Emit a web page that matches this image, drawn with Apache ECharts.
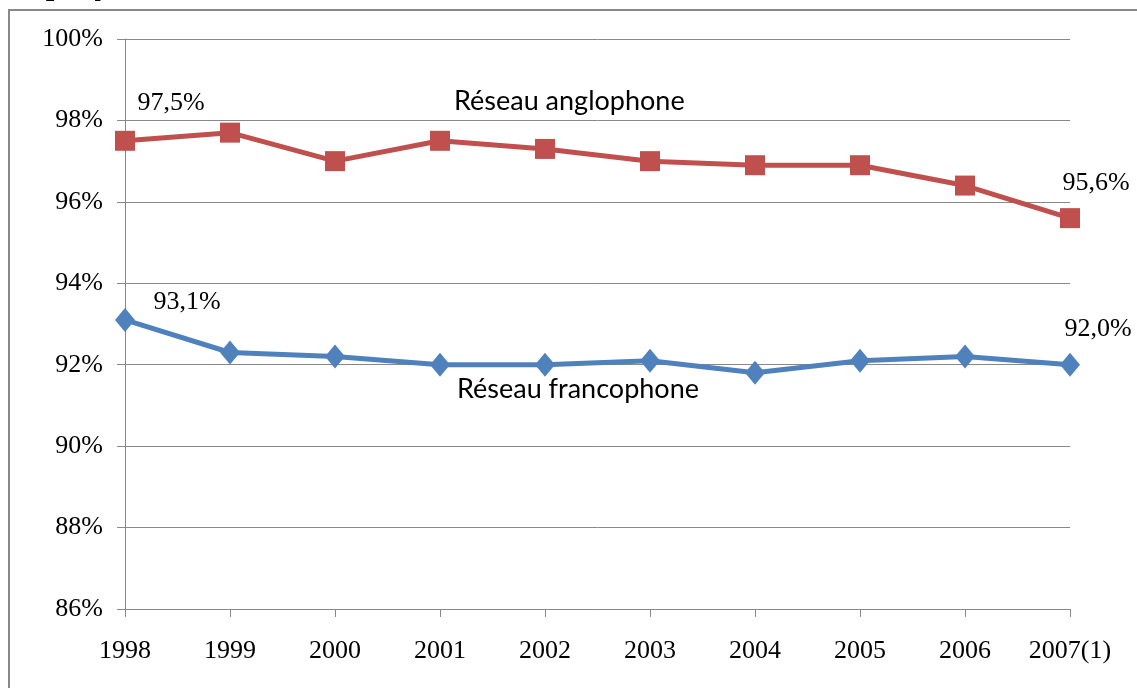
<!DOCTYPE html>
<html>
<head>
<meta charset="utf-8">
<script src="https://cdn.jsdelivr.net/npm/echarts@6/dist/echarts.min.js"></script>
<style>
  html, body { margin: 0; padding: 0; background: #fff; }
  #chart { width: 1137px; height: 688px; }
</style>
</head>
<body>
<div id="chart"></div>
<script>
const YEARS = ["1998", "1999", "2000", "2001", "2002", "2003", "2004", "2005", "2006", "2007(1)"];
const ANGLO = [97.5, 97.7, 97.0, 97.5, 97.3, 97.0, 96.9, 96.9, 96.4, 95.6];
const FRANCO = [93.1, 92.3, 92.2, 92.0, 92.0, 92.1, 91.8, 92.1, 92.2, 92.0];
// points that carry a value label in the original
const LABELLED = [0, 9];

var myChart = echarts.init(document.getElementById("chart"));
const serif = "'Liberation Serif', 'DejaVu Serif', serif";
const sans = "Lato, 'Open Sans', sans-serif";

function withLabels(values, offsets) {
  return values.map(function (v, i) {
    const k = LABELLED.indexOf(i);
    if (k < 0) return v;
    return {
      value: v,
      label: {
        show: true,
        position: "top",
        offset: offsets[k],
        formatter: function (p) {
          return p.value.toFixed(1).replace(".", ",") + "%";
        },
        fontFamily: serif,
        fontSize: 26,
        color: "#000",
      },
    };
  });
}

var option = {
  backgroundColor: "#fff",
  animation: false,
  grid: {
    left: 125,
    right: 67,
    top: 39,
    bottom: 79,
  },
  xAxis: {
    type: "category",
    data: YEARS,
    boundaryGap: false,
    axisLine: { lineStyle: { color: "#888", width: 1 } },
    axisTick: { show: true, length: 8, alignWithLabel: true, interval: 0, lineStyle: { color: "#888" } },
    axisLabel: { interval: 0, fontFamily: serif, fontSize: 26, color: "#000", margin: 29 },
  },
  yAxis: {
    type: "value",
    min: 86,
    max: 100,
    interval: 2,
    axisLine: { show: true, lineStyle: { color: "#888", width: 1 } },
    axisTick: { show: true, length: 8, lineStyle: { color: "#888" } },
    splitLine: { lineStyle: { color: "#888", width: 1 } },
    axisLabel: {
      formatter: "{value}%",
      fontFamily: serif,
      fontSize: 26,
      color: "#000",
      margin: 22,
    },
  },
  series: [
    {
      name: "Réseau anglophone",
      type: "line",
      data: withLabels(ANGLO, [[46, -10], [26, -7]]),
      symbol: "rect",
      symbolSize: 20,
      lineStyle: { color: "#C0504D", width: 5 },
      itemStyle: { color: "#C0504D" },
    },
    {
      name: "Réseau francophone",
      type: "line",
      data: withLabels(FRANCO, [[62, 12], [28, -6]]),
      symbol: "diamond",
      symbolSize: [20, 24],
      lineStyle: { color: "#4F81BD", width: 5 },
      itemStyle: { color: "#4F81BD" },
    },
  ],
  graphic: [
    {
      type: "rect",
      shape: { x: 9, y: 10, width: 1140, height: 700 },
      style: { fill: "none", stroke: "#888", lineWidth: 2 },
      silent: true,
    },
    {
      type: "text",
      left: 0,
      top: -28,
      style: {
        text: "Graphique :",
        fontFamily: serif,
        fontStyle: "italic",
        fontWeight: "bold",
        fontSize: 30,
        fill: "#000",
      },
    },
    {
      type: "text",
      left: 454,
      top: 88,
      style: {
        text: "Réseau anglophone",
        fontFamily: sans,
        fontSize: 27,
        fill: "#000",
      },
    },
    {
      type: "text",
      left: 457,
      top: 376,
      style: {
        text: "Réseau francophone",
        fontFamily: sans,
        fontSize: 27,
        fill: "#000",
      },
    },
  ],
};

option && myChart.setOption(option);
</script>
</body>
</html>
